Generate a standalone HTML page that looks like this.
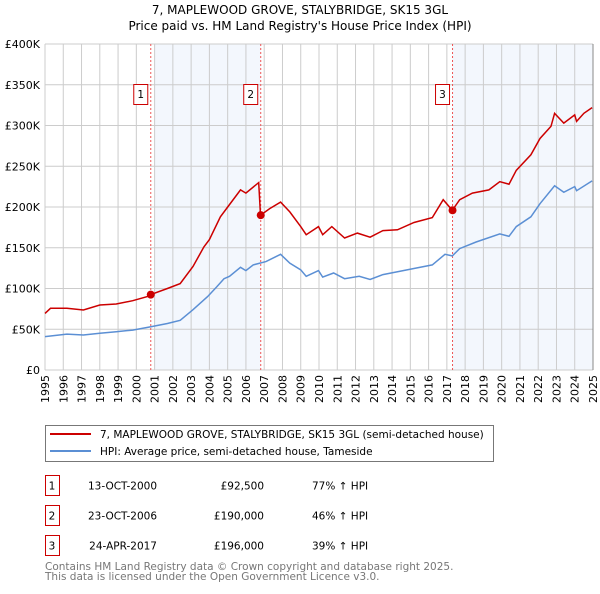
<!DOCTYPE html>
<html><head><meta charset="utf-8"><style>
body{margin:0;background:#fff;width:600px;height:590px;overflow:hidden;font-family:"DejaVu Sans","Liberation Sans",sans-serif}
svg text{font-family:"DejaVu Sans","Liberation Sans",sans-serif}
</style></head><body>
<svg id="chart" width="600" height="590" xmlns="http://www.w3.org/2000/svg">
<text x="300" y="14" font-size="12" text-anchor="middle">7, MAPLEWOOD GROVE, STALYBRIDGE, SK15 3GL</text>
<text x="300" y="30" font-size="12" text-anchor="middle">Price paid vs. HM Land Registry's House Price Index (HPI)</text>
<g id="plot"></g>
<g>
<rect x="45.5" y="425.5" width="448" height="36" fill="#fff" stroke="#777"/>
<line x1="50" y1="434" x2="91" y2="434" stroke="#cc0000" stroke-width="2"/>
<text x="100" y="438" font-size="10.5">7, MAPLEWOOD GROVE, STALYBRIDGE, SK15 3GL (semi-detached house)</text>
<line x1="50" y1="451" x2="91" y2="451" stroke="#5b8fd4" stroke-width="2"/>
<text x="100" y="455" font-size="10.5">HPI: Average price, semi-detached house, Tameside</text>
</g>
<g id="table" font-size="10.5"></g>
<text x="45" y="570" font-size="10.5" fill="#777">Contains HM Land Registry data © Crown copyright and database right 2025.</text>
<text x="45" y="580" font-size="10.5" fill="#777">This data is licensed under the Open Government Licence v3.0.</text>
</svg>
<script>
const priceYears=[1995.0,1995.3,1996.2,1997.1,1998.0,1998.9,1999.8,2000.6,2000.79,2001.7,2002.4,2003.1,2003.7,2004.0,2004.6,2005.0,2005.7,2006.0,2006.7,2006.8,2007.3,2007.9,2008.4,2009.0,2009.3,2009.97,2010.2,2010.7,2011.4,2012.1,2012.8,2013.5,2014.3,2015.2,2016.2,2016.8,2017.3,2017.7,2018.4,2019.3,2019.9,2020.4,2020.8,2021.6,2022.1,2022.7,2022.9,2023.4,2024.0,2024.1,2024.5,2024.95];
const priceValues=[69.5,75.7,75.7,73.6,79.8,81,85,90,92.5,100,106,127,151,160,188,200,221,217,230,190,198,206,194,176,166,176,166,176,162,168,163,171,172,181,187,209,196,209,217,221,231,228,245,264,284,299,315,303,313,305,315,322];
const hpiYears=[1995.0,1996.2,1997.1,1998.0,1998.9,1999.8,2000.8,2001.7,2002.4,2003.1,2003.9,2004.4,2004.8,2005.1,2005.7,2006.0,2006.4,2007.1,2007.9,2008.4,2009.0,2009.3,2009.97,2010.2,2010.8,2011.4,2012.2,2012.8,2013.5,2014.4,2015.3,2016.2,2016.9,2017.3,2017.7,2018.6,2019.9,2020.4,2020.8,2021.6,2022.1,2022.9,2023.4,2024.0,2024.1,2024.95];
const hpiValues=[41,44,43,45,47,49,53,57,61,74,90,102,112,115,126,122,129,133,142,131,123,115,122,114,119,112,115,111,117,121,125,129,142,140,149,157,167,164,176,188,204,226,218,225,220,232];
const saleYears=[2000.79,2006.81,2017.31];
const saleValues=[92.5,190,196];
const saleLabels=["1","2","3"];
const saleDates=["13-OCT-2000","23-OCT-2006","24-APR-2017"];
const salePrices=["£92,500","£190,000","£196,000"];
const saleHpi=["77% ↑ HPI","46% ↑ HPI","39% ↑ HPI"];
const yTicks=[0,50,100,150,200,250,300,350,400];
const yTickLabels=["£0","£50K","£100K","£150K","£200K","£250K","£300K","£350K","£400K"];
const xTicks=[1995,1996,1997,1998,1999,2000,2001,2002,2003,2004,2005,2006,2007,2008,2009,2010,2011,2012,2013,2014,2015,2016,2017,2018,2019,2020,2021,2022,2023,2024,2025];

const NS="http://www.w3.org/2000/svg";
const X0=45,X1=593,Y0=370,Y1=44;
const xs=y=>X0+(y-1995)/30*(X1-X0);
const ys=v=>Y0-v/400*(Y0-Y1);
const plot=document.getElementById('plot');
function mk(tag,attrs,parent){const e=document.createElementNS(NS,tag);for(const k in attrs)e.setAttribute(k,attrs[k]);(parent||plot).appendChild(e);return e;}
const sh1=mk('rect',{x:155,y:Y1,width:xs(saleYears[1])-155,height:Y0-Y1,fill:'#eef3fc',opacity:0.7});


const sh2=mk('rect',{x:xs(saleYears[2]),y:Y1,width:X1-xs(saleYears[2]),height:Y0-Y1,fill:'#eef3fc',opacity:0.7});


yTicks.forEach((t,i)=>{
  const g=mk('line',{x1:X0,x2:X1,y1:ys(t),y2:ys(t),stroke:'#cccccc','stroke-width':1});
  
  
  const tx=mk('text',{x:X0-5,y:ys(t)+4,'font-size':11,'text-anchor':'end'});
  
  
  tx.textContent=yTickLabels[i];
});
xTicks.forEach(t=>{
  const g=mk('line',{x1:xs(t),x2:xs(t),y1:Y1,y2:Y0,stroke:'#cccccc','stroke-width':1});
  
  
  const lx=xs(t)+4,ly=375;
  const tx=mk('text',{x:lx,y:ly,'font-size':11,'text-anchor':'end',transform:'rotate(-90 '+lx+' '+ly+')'});
  
  
  tx.textContent=t;
});
const right=mk('line',{x1:X1,x2:X1,y1:Y1,y2:Y0,stroke:'#888','stroke-width':1});


saleYears.forEach((y,i)=>{
  const l=mk('line',{x1:xs(y),x2:xs(y),y1:Y1,y2:Y0,stroke:'#ee5555','stroke-width':1,'stroke-dasharray':'2,2'});
  
  
});
function path(xsA,vs,col,name){
  const d=xsA.map((y,i)=>(i?'L':'M')+xs(y).toFixed(1)+','+ys(vs[i]).toFixed(1)).join('');
  const p=mk('path',{d:d,fill:'none',stroke:col,'stroke-width':1.5});
  
  
}
path(hpiYears,hpiValues,'#5b8fd4','hpi-line');
path(priceYears,priceValues,'#cc0000','price-line');
saleYears.forEach((y,i)=>{
  const c=mk('circle',{cx:xs(y),cy:ys(saleValues[i]),r:4,fill:'#cc0000'});
  
  
  const b=mk('rect',{x:xs(y)-17,y:84.5,width:14,height:20,fill:'#fff',stroke:'#cc0000'});
  
  
  const t=mk('text',{x:xs(y)-10,y:98,'font-size':10.5,'text-anchor':'middle'});
  
  
  t.textContent=saleLabels[i];
});
const tbl=document.getElementById('table');
saleLabels.forEach((l,i)=>{
  const y=475.5+i*30;
  const r=mk('rect',{x:45.5,y:y,width:14,height:20,fill:'#fff',stroke:'#cc0000'},tbl);
  
  
  const cells=[[52,l,'middle'],[157,saleDates[i],'end'],[264,salePrices[i],'end'],[312,saleHpi[i],'start']];
  cells.forEach((c,j)=>{
    const t=mk('text',{x:c[0],y:y+14,'text-anchor':c[2]},tbl);
    
    
    t.textContent=c[1];
  });
});
</script>
</body></html>
